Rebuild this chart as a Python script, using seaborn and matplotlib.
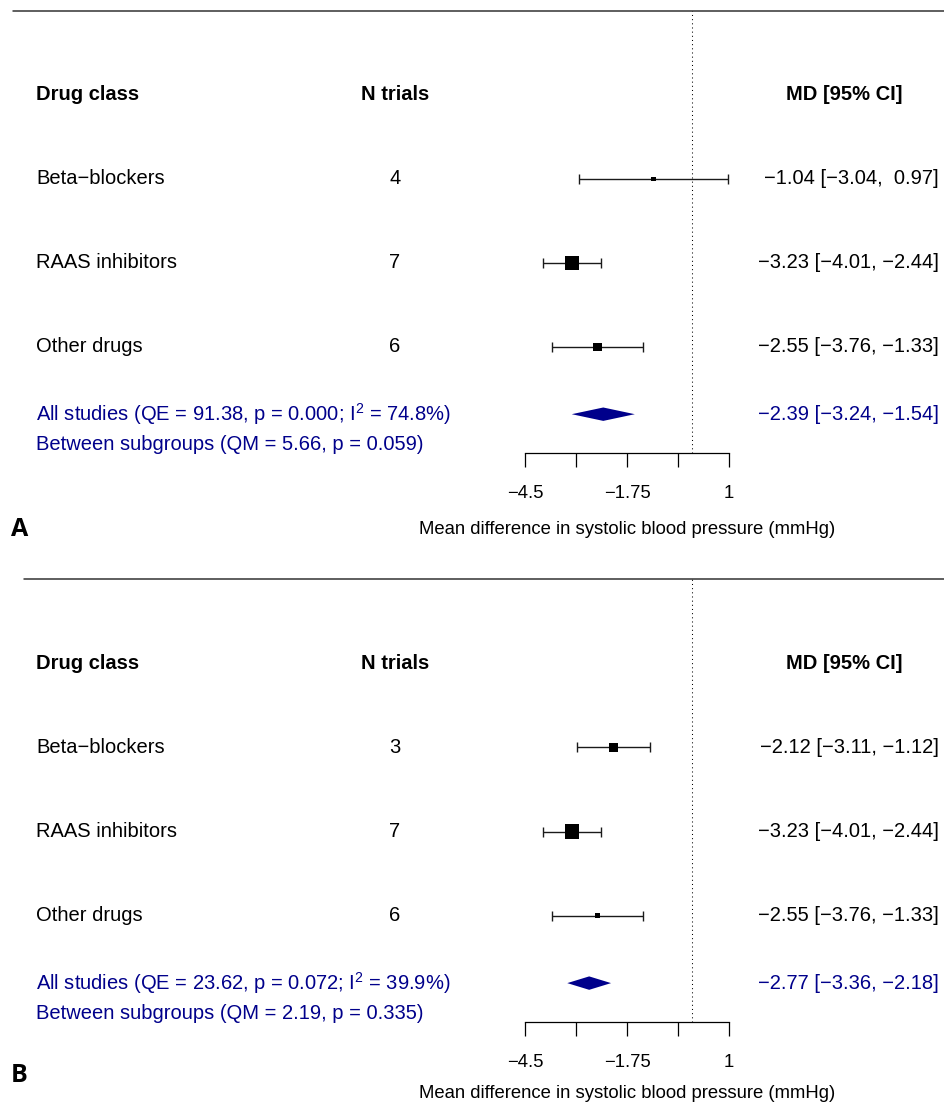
import numpy as np
import pandas as pd
import matplotlib
matplotlib.use("Agg")
import matplotlib.pyplot as plt
import seaborn as sns

# ---------------- data ----------------
drug_classes = ["Beta\u2212blockers", "RAAS inhibitors", "Other drugs"]

n_trials_a = [4, 7, 6]
md_a = [-1.04, -3.23, -2.55]
lo_a = [-3.04, -4.01, -3.76]
hi_a = [0.97, -2.44, -1.33]
pooled_a = [-2.39, -3.24, -1.54]          # estimate, lower, upper
het_a = "All studies (QE = 91.38, p = 0.000; I$^{2}$ = 74.8%)"
sub_a = "Between subgroups (QM = 5.66, p = 0.059)"

n_trials_b = [3, 7, 6]
md_b = [-2.12, -3.23, -2.55]
lo_b = [-3.11, -4.01, -3.76]
hi_b = [-1.12, -2.44, -1.33]
pooled_b = [-2.77, -3.36, -2.18]
het_b = "All studies (QE = 23.62, p = 0.072; I$^{2}$ = 39.9%)"
sub_b = "Between subgroups (QM = 2.19, p = 0.335)"

x_ticks = [-4.5, -3.125, -1.75, -0.375, 1.0]
x_tick_labels = ["\u22124.5", "", "\u22121.75", "", "1"]
x_label = "Mean difference in systolic blood pressure (mmHg)"
headers = ["Drug class", "N trials", "MD [95% CI]"]
panel_labels = ["A", "B"]

# ---------------- style ----------------
sns.set_theme(style="white")
plt.rcParams["font.family"] = ["Liberation Sans", "DejaVu Sans"]
plt.rcParams["mathtext.fontset"] = "custom"
plt.rcParams["mathtext.rm"] = "Liberation Sans"
plt.rcParams["mathtext.it"] = "Liberation Sans:italic"
plt.rcParams["mathtext.bf"] = "Liberation Sans:bold"
plt.rcParams["axes.unicode_minus"] = True
plt.rcParams["text.color"] = "black"
plt.rcParams["xtick.color"] = "black"
plt.rcParams["axes.labelcolor"] = "black"

W, H = 945, 1108
fig = plt.figure(figsize=(W / 100, H / 100), dpi=100)
BLUE = "#00008B"
FS = 14.5
TOP, BOT = 5.0, -0.262


def rect(x0, y0, x1, y1):
    return [x0 / W, 1 - y1 / H, (x1 - x0) / W, (y1 - y0) / H]


def num(v):
    return f"{v:.2f}".replace("-", "\u2212")


def ci_text(e, l, u):
    upper = num(u) if u < 0 else " " + num(u)
    return f"{num(e)} [{num(l)}, {upper}]"


def panel(top_px, axis_px, line_x0, n_trials, md, lo, hi, pooled, het, sub, label,
          xlabel_y, label_y):
    rows = [3, 2, 1]
    y_sum, y_sub, y_head = 0.2, -0.16, 4.0

    # text layer
    axt = fig.add_axes(rect(0, top_px, W, axis_px))
    axt.set_xlim(0, W)
    axt.set_ylim(BOT, TOP)
    axt.axis("off")
    axt.axhline(TOP, xmin=line_x0 / W, xmax=1, color="#333333", lw=1.1, clip_on=False)

    axt.text(36, y_head, headers[0], ha="left", va="center", fontsize=FS, fontweight="bold")
    axt.text(395, y_head, headers[1], ha="center", va="center", fontsize=FS, fontweight="bold")
    axt.text(844, y_head, headers[2], ha="center", va="center", fontsize=FS, fontweight="bold")

    for r, name, n, e, l, u in zip(rows, drug_classes, n_trials, md, lo, hi):
        axt.text(36, r, name, ha="left", va="center", fontsize=FS)
        axt.text(395, r, str(n), ha="center", va="center", fontsize=FS)
        axt.text(939, r, ci_text(e, l, u), ha="right", va="center", fontsize=FS)

    axt.text(36, y_sum, het, ha="left", va="center", fontsize=FS, color=BLUE)
    axt.text(36, y_sub, sub, ha="left", va="center", fontsize=FS, color=BLUE)
    axt.text(939, y_sum, ci_text(*pooled), ha="right", va="center", fontsize=FS, color=BLUE)

    # forest layer
    axf = fig.add_axes(rect(525, top_px, 729, axis_px))
    axf.patch.set_alpha(0)
    axf.set_xlim(x_ticks[0], x_ticks[-1])
    axf.set_ylim(BOT, TOP)
    for s in ["top", "right", "left"]:
        axf.spines[s].set_visible(False)
    axf.spines["bottom"].set_color("black")
    axf.spines["bottom"].set_linewidth(0.9)
    axf.set_yticks([])
    axf.set_xticks(x_ticks)
    axf.set_xticklabels(x_tick_labels)
    axf.tick_params(axis="x", direction="out", length=10, width=0.9, pad=13,
                    labelsize=13.3, colors="black", bottom=True)
    axf.axvline(0, color="black", lw=0.75, ls=(0, (1, 3)))

    md_arr, lo_arr, hi_arr = np.array(md), np.array(lo), np.array(hi)
    axf.errorbar(md_arr, rows, xerr=[md_arr - lo_arr, hi_arr - md_arr], fmt="none",
                 ecolor="#1a1a1a", elinewidth=1.0, capsize=3.6, capthick=1.0)

    # square size as in metafor: based on 1/SE, scaled to 0.5..1.5
    se = (hi_arr - lo_arr) / (2 * 1.96)
    wi = 1 / se
    psize = (wi - wi.min()) / (wi.max() - wi.min()) + 0.5
    side_pt = psize * 9.6 * 0.72
    df = pd.DataFrame({"md": md_arr, "row": rows, "cls": drug_classes})
    sns.scatterplot(data=df, x="md", y="row", size="cls",
                    sizes={c: s ** 2 for c, s in zip(drug_classes, side_pt)},
                    marker="s", color="black", linewidth=0, legend=False, ax=axf, zorder=3)

    e, l, u = pooled
    h = 6.7 / 84
    axf.fill([l, e, u, e], [y_sum, y_sum + h, y_sum, y_sum - h], color=BLUE, lw=0, zorder=3)
    axf.set_xlabel("")
    axf.set_ylabel("")
    axf.text(0.5, (axis_px - xlabel_y) / (axis_px - top_px), x_label,
             transform=axf.transAxes, ha="center", va="center", fontsize=13.3)

    fig.text(11 / W, 1 - label_y / H, label, ha="left", va="center",
             fontsize=18, fontweight="bold", family=["Open Sans", "DejaVu Sans"])


panel(11, 453, 13, n_trials_a, md_a, lo_a, hi_a, pooled_a, het_a, sub_a, panel_labels[0], 529, 530)
panel(579, 1022, 24, n_trials_b, md_b, lo_b, hi_b, pooled_b, het_b, sub_b, panel_labels[1], 1093, 1076)

fig.savefig("out.png", dpi=100)
